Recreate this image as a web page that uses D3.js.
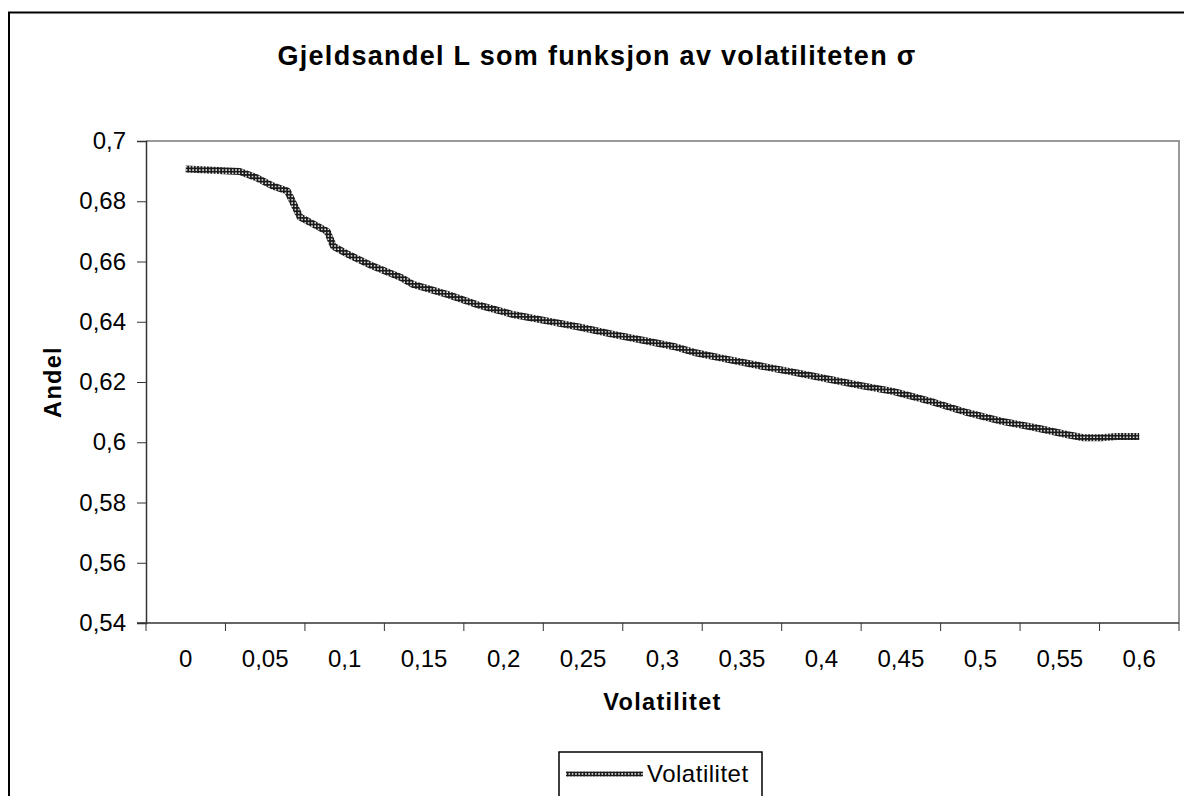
<!DOCTYPE html>
<html lang="no">
<head>
<meta charset="UTF-8">
<title>Gjeldsandel</title>
<script src="https://d3js.org/d3.v7.min.js"></script>
<style>
body { margin: 0; background: #fff; }
svg { display: block; }
text { font-family: "Liberation Sans", Arial, sans-serif; fill: #000; }
</style>
</head>
<body>
<script>
// values
const volatility = [0, 0.017, 0.034, 0.045, 0.055, 0.064, 0.072, 0.089, 0.093, 0.102, 0.118, 0.135,
  0.143, 0.165, 0.185, 0.206, 0.228, 0.249, 0.269, 0.29, 0.307, 0.32, 0.341, 0.362, 0.383,
  0.404, 0.425, 0.445, 0.46, 0.471, 0.492, 0.513, 0.534, 0.555, 0.565, 0.576, 0.586, 0.6]
const andel = [0.6907, 0.6903, 0.6899, 0.6877, 0.685, 0.6834, 0.6747, 0.670, 0.665, 0.6624, 0.6584, 0.6548,
  0.6524, 0.649, 0.6454, 0.6424, 0.6402, 0.6381, 0.6358, 0.6336, 0.6318, 0.6298, 0.6275, 0.6253, 0.6232,
  0.621, 0.6188, 0.6169, 0.6148, 0.6132, 0.6098, 0.607, 0.6049, 0.6025, 0.6015, 0.6015, 0.6019, 0.6019]
const xLabels = ["0", "0,05", "0,1", "0,15", "0,2", "0,25", "0,3", "0,35", "0,4", "0,45", "0,5", "0,55", "0,6"]
const yTicks = [0.54, 0.56, 0.58, 0.6, 0.62, 0.64, 0.66, 0.68, 0.7]

const W = 1184, H = 796
const plot = {left: 146, right: 1179, top: 141, bottom: 623}

const svg = d3.select("body").append("svg").attr("width", W).attr("height", H)

// pattern to mimic the hatched Excel line
const defs = svg.append("defs")
const pat = defs.append("pattern").attr("id", "hatch")
  .attr("patternUnits", "userSpaceOnUse").attr("width", 3.3).attr("height", 3.3)
pat.append("rect").attr("width", 3.3).attr("height", 3.3).attr("fill", "#1a1a1a")
pat.append("rect").attr("x", 1).attr("y", 1).attr("width", 1.5).attr("height", 1.5).attr("fill", "#fff")

// chart frame (runs off the picture right and bottom)
svg.append("rect").attr("x", 9).attr("y", 12.5).attr("width", 1200).attr("height", 820)
  .attr("fill", "none").attr("stroke", "#000").attr("stroke-width", 2)

const locale = d3.formatLocale({decimal: ",", thousands: " ", grouping: [3], currency: ["", ""]})
const fmt = locale.format("~g")

const xBand = d3.scaleBand().domain(xLabels).range([plot.left, plot.right]).padding(0)
const bw = xBand.bandwidth()
const x = d3.scaleLinear().domain([0, 0.6])
  .range([xBand("0") + bw / 2, xBand("0,6") + bw / 2])
const y = d3.scaleLinear().domain([0.54, 0.7]).range([plot.bottom, plot.top])

// plot area border (grey top and right)
svg.append("path")
  .attr("d", `M${plot.left},${plot.top}H${plot.right}V${plot.bottom}`)
  .attr("fill", "none").attr("stroke", "#999").attr("stroke-width", 2)

// y axis
const yAxis = svg.append("g").attr("transform", `translate(${plot.left},0)`)
  .call(d3.axisLeft(y).tickValues(yTicks).tickFormat(fmt).tickSize(9).tickPadding(11))
yAxis.select(".domain").attr("stroke", "#333").attr("stroke-width", 1.5)
yAxis.selectAll(".tick line").attr("stroke", "#333")
yAxis.selectAll("text").attr("font-size", 24).attr("font-family", null)

// x axis: labels centred in bands, tick marks at band edges
const xAxis = svg.append("g").attr("transform", `translate(0,${plot.bottom})`)
  .call(d3.axisBottom(xBand).tickSize(0).tickPadding(27))
xAxis.select(".domain").remove()
xAxis.selectAll("text").attr("font-size", 24).attr("font-family", null)
xAxis.append("line").attr("x1", plot.left - 9).attr("x2", plot.right)
  .attr("stroke", "#333").attr("stroke-width", 1.5)
const edges = xLabels.map(d => xBand(d)).concat([plot.right])
xAxis.selectAll(".edge").data(edges).enter().append("line")
  .attr("class", "edge")
  .attr("x1", d => d).attr("x2", d => d).attr("y1", 0).attr("y2", 8)
  .attr("stroke", "#333")

// the series
const pts = volatility.map((v, i) => [v, andel[i]])
svg.append("path").datum(pts)
  .attr("d", d3.line().x(d => x(d[0])).y(d => y(d[1])))
  .attr("fill", "none").attr("stroke", "url(#hatch)").attr("stroke-width", 7)
  .attr("stroke-linejoin", "round")

// titles
svg.append("text").attr("x", 597).attr("y", 65).attr("text-anchor", "middle")
  .attr("font-size", 27).attr("font-weight", "bold").attr("letter-spacing", 1.3)
  .text("Gjeldsandel L som funksjon av volatiliteten σ")
svg.append("text").attr("x", (plot.left + plot.right) / 2).attr("y", 710).attr("text-anchor", "middle")
  .attr("font-size", 23.5).attr("font-weight", "bold").attr("letter-spacing", 1.3)
  .text("Volatilitet")
svg.append("text").attr("transform", `translate(61,${(plot.top + plot.bottom) / 2}) rotate(-90)`)
  .attr("text-anchor", "middle")
  .attr("font-size", 23.5).attr("font-weight", "bold").attr("letter-spacing", 1.3)
  .text("Andel")

// legend
const lg = svg.append("g")
lg.append("rect").attr("x", 559).attr("y", 752).attr("width", 203).attr("height", 60)
  .attr("fill", "#fff").attr("stroke", "#000").attr("stroke-width", 1.5)
lg.append("line").attr("x1", 566).attr("x2", 643).attr("y1", 774).attr("y2", 774)
  .attr("stroke", "url(#hatch)").attr("stroke-width", 5)
lg.append("text").attr("x", 647).attr("y", 782).attr("font-size", 24).attr("letter-spacing", 0.5)
  .text("Volatilitet")
</script>
</body>
</html>
